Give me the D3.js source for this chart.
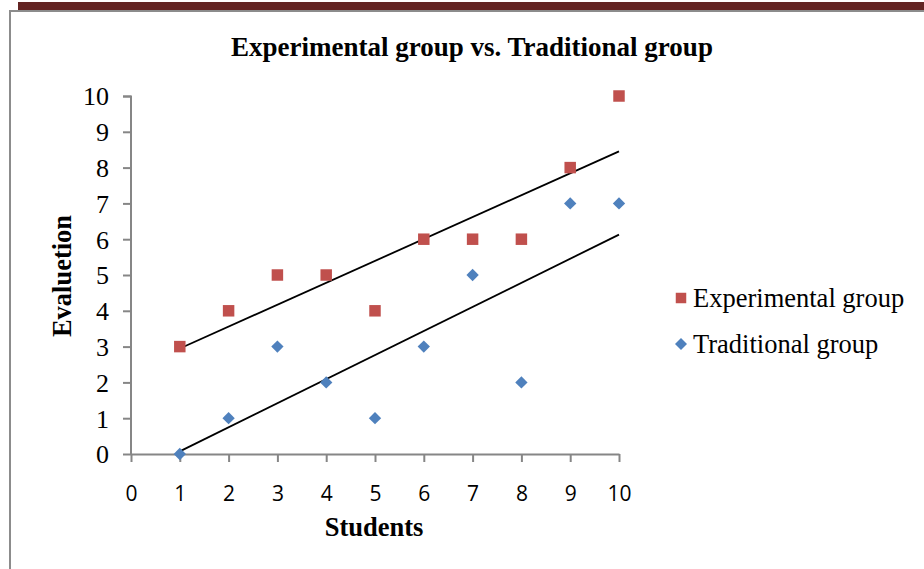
<!DOCTYPE html>
<html><head><meta charset="utf-8">
<script src="https://cdn.jsdelivr.net/npm/d3@7"></script>
<style>body{margin:0;background:#fff}svg{display:block}</style>
</head><body><svg id="c" width="924" height="569"></svg>
<script>
const students = [1,2,3,4,5,6,7,8,9,10];
const experimental = [3,4,5,5,4,6,6,6,8,10];
const traditional = [0,1,3,2,1,3,5,2,7,7];
const xTicks = [0,1,2,3,4,5,6,7,8,9,10];
const yTicks = [0,1,2,3,4,5,6,7,8,9,10];
const seriesNames = ["Experimental group","Traditional group"];
const colors = ["#C0504D","#4F81BD"];

const svg = d3.select("#c");
// page decoration
svg.append("rect").attr("x",18).attr("y",2).attr("width",906).attr("height",8).attr("fill","#632423");
svg.append("path").attr("d","M10,569 V11 H924").attr("fill","none").attr("stroke","#8c8c8c").attr("stroke-width",2);

const x = d3.scaleLinear().domain([0,10]).range([131,619]);
const y = d3.scaleLinear().domain([0,10]).range([454,96]);

const axisColor = "#868686";
const xAxis = svg.append("g").attr("transform","translate(0,454)")
  .call(d3.axisBottom(x).tickValues(xTicks).tickSize(8).tickSizeOuter(0));
xAxis.selectAll("text").attr("font-family","'Open Sans', 'Liberation Sans', sans-serif").attr("font-size",21)
  .attr("fill","#000").attr("y",47).attr("dy",0);
const yAxis = svg.append("g").attr("transform","translate(131,0)")
  .call(d3.axisLeft(y).tickValues(yTicks).tickSize(8).tickSizeOuter(0).tickPadding(14));
yAxis.selectAll("text").attr("font-family","'Liberation Serif', serif").attr("font-size",26).attr("fill","#000").attr("dy","0.34em");
[xAxis,yAxis].forEach(a=>{a.selectAll("line,path").attr("stroke",axisColor).attr("stroke-width",2);});
yAxis.select(".domain").attr("d","M-8,96.5H0V454");

// trend lines
function fit(xs, ys){
  const mx=d3.mean(xs), my=d3.mean(ys);
  let sxy=0,sxx=0; xs.forEach((v,i)=>{sxy+=(v-mx)*(ys[i]-my); sxx+=(v-mx)**2;});
  const b=sxy/sxx, a=my-b*mx; return v=>a+b*v;
}
[experimental, traditional].forEach(vals=>{
  const f=fit(students, vals);
  const x0=d3.min(students), x1=d3.max(students);
  svg.append("line").attr("x1",x(x0)).attr("y1",y(f(x0))).attr("x2",x(x1)).attr("y2",y(f(x1)))
    .attr("stroke","#000").attr("stroke-width",1.8);
});

// markers
const sq = d3.symbol().type(d3.symbolSquare).size(132);
const dia = d3.symbol().type(d3.symbolSquare).size(76);
svg.append("g").selectAll("path").data(students).join("path")
  .attr("d",sq).attr("transform",(d,i)=>`translate(${x(d)},${y(experimental[i])})`).attr("fill",colors[0]);
svg.append("g").selectAll("path").data(students).join("path")
  .attr("d",dia).attr("transform",(d,i)=>`translate(${x(d)},${y(traditional[i])}) rotate(45)`).attr("fill",colors[1]);

// titles
const serifBold = t => t.attr("font-family","'Liberation Serif', serif").attr("font-weight","bold");
serifBold(svg.append("text").attr("x",472).attr("y",56).attr("text-anchor","middle").attr("font-size",27))
  .text("Experimental group vs. Traditional group");
serifBold(svg.append("text").attr("x",374).attr("y",536).attr("text-anchor","middle").attr("font-size",26.5))
  .text("Students");
serifBold(svg.append("text").attr("transform","translate(71,276) rotate(-90)").attr("text-anchor","middle").attr("font-size",26.5))
  .text("Evaluetion");

// legend
const lg = svg.append("g");
const ly = [298,344];
lg.append("path").attr("d",d3.symbol().type(d3.symbolSquare).size(110)).attr("transform",`translate(681,${ly[0]})`).attr("fill",colors[0]);
lg.append("path").attr("d",d3.symbol().type(d3.symbolSquare).size(72)).attr("transform",`translate(681,${ly[1]}) rotate(45)`).attr("fill",colors[1]);
seriesNames.forEach((n,i)=>{
  lg.append("text").attr("x",693).attr("y",ly[i]+9).attr("font-family","'Liberation Serif', serif").attr("font-size",26.5).text(n);
});
</script></body></html>
